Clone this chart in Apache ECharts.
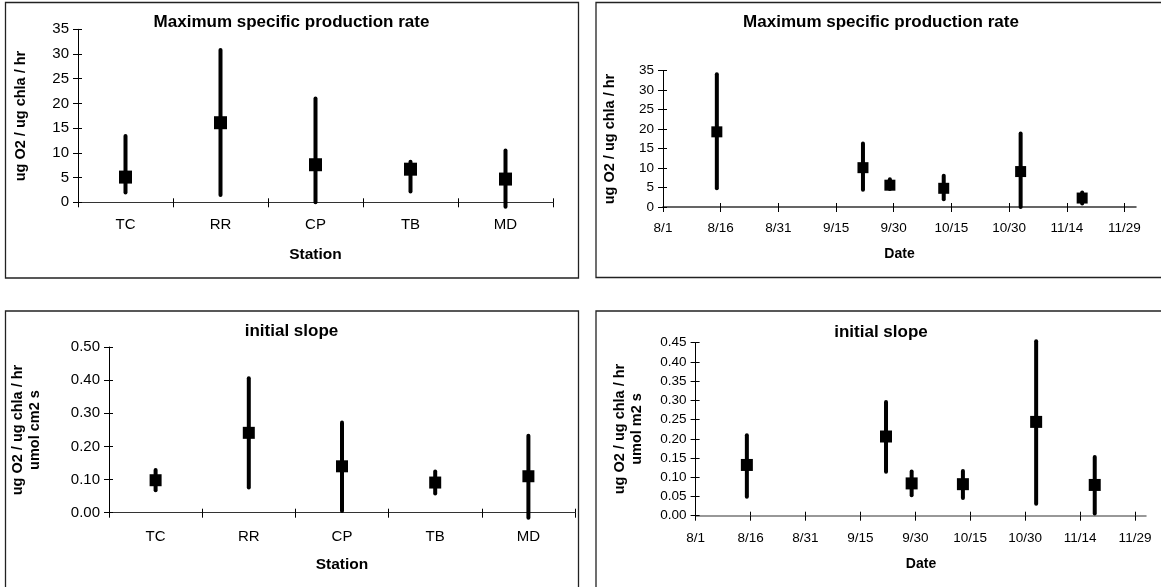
<!DOCTYPE html>
<html><head><meta charset="utf-8">
<script src="https://cdn.jsdelivr.net/npm/echarts@6/dist/echarts.min.js"></script>
<style>html,body{margin:0;padding:0;background:#fff}#c{width:1161px;height:587px}</style>
</head><body><div id="c"></div>
<script>
// ---------- data ----------
const stations = ['TC', 'RR', 'CP', 'TB', 'MD'];
const stationPmaxMean = [5.1, 16.1, 7.6, 6.7, 4.7];
const stationPmaxHigh = [13.4, 30.8, 21.0, 8.2, 10.5];
const stationPmaxLow  = [2.0, 1.5, 0.0, 2.2, -0.9];

const dates = ['8/15', '9/22', '9/29', '10/13', '11/2', '11/18'];
const datePmaxMean = [19.3, 10.1, 5.6, 4.8, 9.1, 2.3];
const datePmaxHigh = [34.1, 16.3, 7.1, 8.0, 18.9, 3.7];
const datePmaxLow  = [4.8, 4.4, 4.6, 2.0, 0.0, 0.9];

const stationSlopeMean = [0.098, 0.241, 0.140, 0.091, 0.110];
const stationSlopeHigh = [0.129, 0.406, 0.272, 0.124, 0.232];
const stationSlopeLow  = [0.068, 0.076, 0.005, 0.058, -0.015];

const dateSlopeMean = [0.132, 0.206, 0.084, 0.082, 0.244, 0.080];
const dateSlopeHigh = [0.209, 0.296, 0.115, 0.116, 0.454, 0.153];
const dateSlopeLow  = [0.049, 0.114, 0.053, 0.046, 0.031, 0.006];

const dateTickLabels = ['8/1', '8/16', '8/31', '9/15', '9/30', '10/15', '10/30', '11/14', '11/29'];
const dateAxisStart = '8/1';
const dateAxisEnd = '12/2';

const pmaxTitle = 'Maximum specific production rate';
const slopeTitle = 'initial slope';
const pmaxYName = 'ug O2 / ug chla / hr';
const slopeYNameStation = 'ug O2 / ug chla / hr\numol cm2 s';
const slopeYNameDate = 'ug O2 / ug chla / hr\numol m2 s';

// ---------- helpers ----------
const monthStart = {8: 0, 9: 31, 10: 61, 11: 92, 12: 122};
function dayOffset(s) { const [m, d] = s.split('/').map(Number); return monthStart[m] + d - 1; }
const dateTickValues = dateTickLabels.map(dayOffset);
const labelByValue = {};
dateTickLabels.forEach((l, i) => { labelByValue[dateTickValues[i]] = l; });

const FF = '"Liberation Sans", Arial, sans-serif';

const grids = [
  {left: 78, top: 29.3, width: 475, height: 173},
  {left: 663, top: 70.7, width: 473, height: 136.3},
  {left: 109, top: 347, width: 466, height: 165.7},
  {left: 695.6, top: 342.7, width: 450.4, height: 173}
];

const xAxes = [], yAxes = [], series = [];

function addCatX(g, fs, margin) {
  const base = {type: 'category', gridIndex: g, data: stations, boundaryGap: true, position: 'bottom'};
  xAxes.push(Object.assign({}, base, {
    axisLine: {show: true, lineStyle: {color: '#333', width: 1.2}},
    axisTick: {show: true, length: 5, lineStyle: {color: '#000'}},
    axisLabel: {color: '#000', fontSize: fs, fontFamily: FF, margin: margin},
    splitLine: {show: false}
  }));
  xAxes.push(Object.assign({}, base, {
    axisLine: {show: false},
    axisTick: {show: true, inside: true, length: 4, lineStyle: {color: '#000'}},
    axisLabel: {show: false}, splitLine: {show: false}
  }));
}
function addDateX(g, fs, lineColor, margin) {
  const base = {type: 'value', gridIndex: g, min: dayOffset(dateAxisStart), max: dayOffset(dateAxisEnd), position: 'bottom'};
  xAxes.push(Object.assign({}, base, {
    axisLine: {show: true, lineStyle: {color: lineColor, width: 1.5}},
    axisTick: {show: true, length: 5, customValues: dateTickValues, lineStyle: {color: '#000'}},
    axisLabel: {color: '#000', fontSize: fs, fontFamily: FF, margin: margin, customValues: dateTickValues,
      formatter: v => labelByValue[v] || ''},
    splitLine: {show: false}
  }));
  xAxes.push(Object.assign({}, base, {
    axisLine: {show: false},
    axisTick: {show: true, inside: true, length: 4, customValues: dateTickValues, lineStyle: {color: '#000'}},
    axisLabel: {show: false}, splitLine: {show: false}
  }));
}
function addY(g, max, interval, dec, fs) {
  const base = {type: 'value', gridIndex: g, min: 0, max: max, interval: interval, position: 'left'};
  yAxes.push(Object.assign({}, base, {
    axisLine: {show: true, lineStyle: {color: '#000', width: 1}},
    axisTick: {show: true, length: 5, lineStyle: {color: '#000'}},
    axisLabel: {color: '#000', fontSize: fs, fontFamily: FF, margin: 9, formatter: v => v.toFixed(dec)},
    splitLine: {show: false}
  }));
  yAxes.push(Object.assign({}, base, {
    axisLine: {show: false},
    axisTick: {show: true, inside: true, length: 4, lineStyle: {color: '#000'}},
    axisLabel: {show: false}, splitLine: {show: false}
  }));
}

function addSeries(g, xs, mean, low, high, size) {
  const ax = 2 * g;
  series.push({
    type: 'custom', xAxisIndex: ax, yAxisIndex: ax, clip: false, silent: true, z: 2,
    data: xs.map((x, i) => [x, low[i], high[i]]),
    encode: {x: 0, y: [1, 2]},
    renderItem: function (params, api) {
      const p1 = api.coord([api.value(0), api.value(1)]);
      const p2 = api.coord([api.value(0), api.value(2)]);
      return {type: 'line', shape: {x1: p1[0], y1: p1[1], x2: p2[0], y2: p2[1]},
        style: {stroke: '#000', lineWidth: 4, lineCap: 'round'}};
    }
  });
  series.push({
    type: 'scatter', xAxisIndex: ax, yAxisIndex: ax, symbol: 'rect', symbolSize: size, z: 3, silent: true,
    itemStyle: {color: '#000', opacity: 1},
    emphasis: {disabled: true},
    data: xs.map((x, i) => [x, mean[i]])
  });
}

addCatX(0, 15, 15); addY(0, 35, 5, 0, 15);
addDateX(1, 13.5, '#333', 14); addY(1, 35, 5, 0, 13.5);
addCatX(2, 15, 17); addY(2, 0.5, 0.1, 2, 15);
addDateX(3, 13.5, '#777', 15.5); addY(3, 0.45, 0.05, 2, 13.5);

addSeries(0, stations.map((s, i) => i), stationPmaxMean, stationPmaxLow, stationPmaxHigh, 13);
addSeries(1, dates.map(dayOffset), datePmaxMean, datePmaxLow, datePmaxHigh, 11);
addSeries(2, stations.map((s, i) => i), stationSlopeMean, stationSlopeLow, stationSlopeHigh, 12);
addSeries(3, dates.map(dayOffset), dateSlopeMean, dateSlopeLow, dateSlopeHigh, 12);

function txt(x, y, text, size, rot) {
  return {type: 'text', x: x, y: y, rotation: rot ? Math.PI / 2 : 0, silent: true, z: 10,
    style: {text: text, align: 'center', verticalAlign: 'middle', fill: '#000',
      font: 'bold ' + size + 'px ' + FF, lineHeight: 17}};
}
function box(x, y, w, h) {
  return {type: 'rect', shape: {x: x, y: y, width: w, height: h}, silent: true, z: 0,
    style: {fill: 'none', stroke: '#222', lineWidth: 1.3}};
}

const graphic = [
  box(5.5, 2.5, 573, 275.5),
  box(596, 2.5, 580, 275),
  box(5.5, 311, 573, 300),
  box(596, 311, 580, 300),
  txt(291.5, 22, pmaxTitle, 17),
  txt(881, 22, pmaxTitle, 17),
  txt(291.5, 331.5, slopeTitle, 17),
  txt(881, 332.5, slopeTitle, 17),
  txt(315.5, 255, 'Station', 15.5),
  txt(899.5, 254, 'Date', 14),
  txt(342, 565, 'Station', 15.5),
  txt(921, 564, 'Date', 14),
  txt(21, 116, pmaxYName, 14.5, true),
  txt(610, 139, pmaxYName, 14.5, true),
  txt(26, 430, slopeYNameStation, 14.5, true),
  txt(628, 429, slopeYNameDate, 14.5, true)
];

const chart = echarts.init(document.getElementById('c'), null, {renderer: 'canvas'});
chart.setOption({
  animation: false,
  backgroundColor: '#fff',
  grid: grids,
  xAxis: xAxes,
  yAxis: yAxes,
  series: series,
  graphic: graphic
});
</script></body></html>
